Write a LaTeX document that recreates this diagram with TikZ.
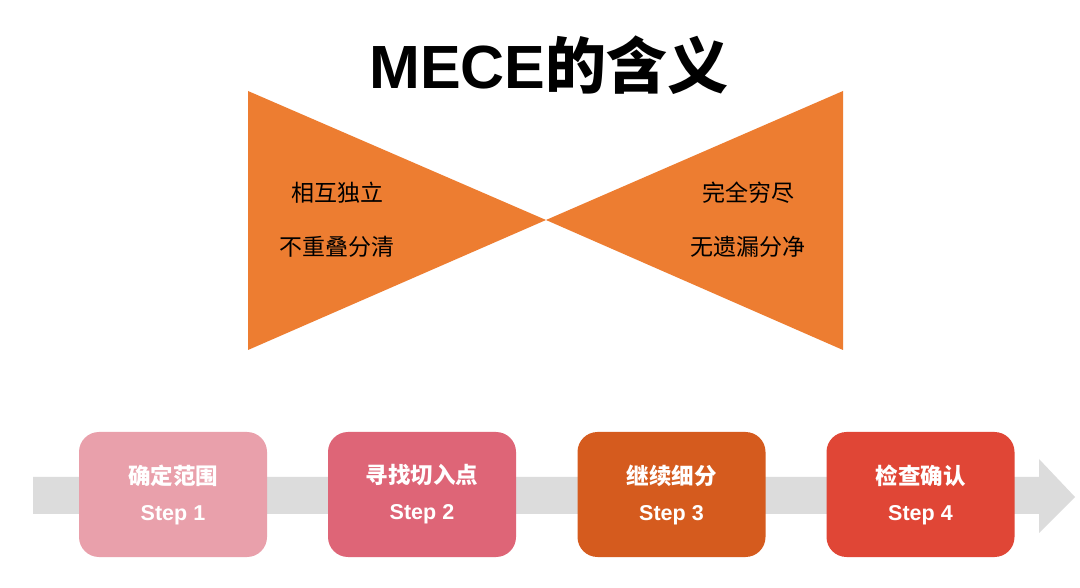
\documentclass[tikz,border=0pt]{standalone}
\usepackage{fontspec}
\setmainfont{Liberation Sans}
\newfontfamily\cjk{Noto Sans CJK SC}
\definecolor{triorange}{HTML}{ED7D31}
\definecolor{arrowgrey}{HTML}{DCDCDC}
\definecolor{stepA}{HTML}{E9A0AB}
\definecolor{stepB}{HTML}{DE6577}
\definecolor{stepC}{HTML}{D55B1E}
\definecolor{stepD}{HTML}{E04636}
\newcommand{\stepcn}[1]{{\cjk\fontsize{22.5}{36}\selectfont #1}}
\begin{document}
\begin{tikzpicture}[x=1pt,y=1pt,
  tritext/.style={font=\cjk\fontsize{23}{26}\selectfont, text=black, inner sep=0pt},
  stepbox/.style={rounded corners=20pt, minimum width=188pt, minimum height=125pt,
    inner sep=0pt, text=white, align=center,
    font=\bfseries\fontsize{21.5}{36}\selectfont}]
\useasboundingbox (0,0) rectangle (1080,587);
\fill[white] (0,0) rectangle (1080,587);
% title
\node (title) at (549,522) {\bfseries\fontsize{61}{66}\selectfont MECE{\cjk 的含义}};
% bow-tie triangles
\coordinate (apex) at (546,367);
\fill[triorange] (248,496) -- (248,237) -- (apex) -- cycle;
\fill[triorange] (843,496) -- (843,237) -- (apex) -- cycle;
\node[tritext] (l1) at (337,394) {相互独立};
\node[tritext] (l2) at (337,340) {不重叠分清};
\node[tritext] (r1) at (748,394) {完全穷尽};
\node[tritext] (r2) at (748,340) {无遗漏分净};
% grey process arrow
\fill[arrowgrey] (33,110) -- (1039,110) -- (1039,128) -- (1075,90) -- (1039,54) -- (1039,73) -- (33,73) -- cycle;
% steps
\node[stepbox, fill=stepA] (s1) at (173,92.5) {\stepcn{确定范围}\\Step 1};
\node[stepbox, fill=stepB] (s2) at (422,92.5) {\stepcn{寻找切入点}\\Step 2};
\node[stepbox, fill=stepC] (s3) at (671.5,92.5) {\stepcn{继续细分}\\Step 3};
\node[stepbox, fill=stepD] (s4) at (920.5,92.5) {\stepcn{检查确认}\\Step 4};
\end{tikzpicture}
\end{document}
